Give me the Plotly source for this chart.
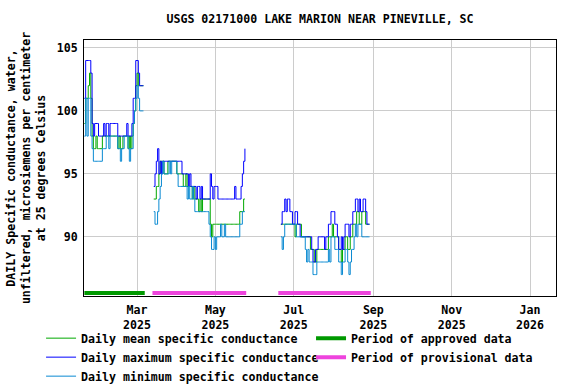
import pandas as pd
import plotly.graph_objects as go

TITLE = "USGS 02171000 LAKE MARION NEAR PINEVILLE, SC"
Y_TITLE = "DAILY Specific conductance, water,<br>unfiltered, microsiemens per centimeter<br>at 25 degrees Celsius"

# ---- daily values (microsiemens per centimeter) ----
seg1_start = "2025-01-19"
seg1_max = [101, 104, 104, 104, 104, 103, 99, 98, 99, 99,
            99, 98, 98, 98, 98, 99, 98, 99, 99, 98,
            99, 99, 99, 99, 99, 99, 98, 98, 98, 98,
            98, 98, 98, 99, 98, 98, 98, 99, 101, 101,
            104, 104, 103, 102, 102, 102, 102]
seg1_mean = [99, 101, 101, 102, 103, 101, 98, 97, 97, 98,
             97, 97, 97, 97, 98, 98, 98, 98, 98, 98,
             98, 98, 98, 98, 98, 98, 97, 98, 97, 97,
             98, 98, 98, 98, 97, 98, 97, 98, 99, 100,
             102, 103, 102, 102, 102, 102, 102]
seg1_min = [98, 101, 98, 101, 101, 98, 97, 96, 96, 96,
            96, 96, 96, 96, 97, 97, 97, 98, 98, 97,
            98, 98, 98, 98, 98, 98, 97, 97, 96, 97,
            97, 98, 98, 98, 97, 96, 97, 97, 99, 100,
            101, 102, 101, 100, 100, 100, 100]

seg2_start = "2025-03-14"
seg2_max = [94, 95, 96, 97, 95, 96, 95, 96, 96, 96,
            96, 96, 96, 96, 96, 96, 96, 96, 96, 96,
            96, 96, 95, 95, 95, 95, 95, 94, 95, 94,
            94, 94, 94, 93, 94,
            94, 93, 94, 93, 93, 93, 93, 93, 93, 95,
            94, 93, 94, 94, 94, 93, 93, 93, 93, 93,
            93, 93, 93, 93, 93, 93, 93, 93, 94, 93,
            93, 93, 93, 94, 95, 96, 97]
seg2_mean = [93, 93, 94, 94, 95, 96, 96, 96, 95, 95,
             95, 96, 96, 96, 96, 96, 96, 96, 95, 95,
             95, 95, 95, 94, 94, 95, 94, 94, 94, 94,
             93, 94, 93, 93, 93,
             92, 93, 92, 93, 93, 93, 93, 93, 93, 91,
             90, 91, 91, 91, 91, 91, 91, 91, 91, 91,
             91, 91, 91, 91, 91, 91, 91, 91, 91, 91,
             91, 91, 92, 92, 92, 93, 93]
seg2_min = [92, 91, 91, 92, 93, 94, 95, 96, 95, 95,
            95, 95, 96, 95, 96, 96, 96, 96, 95, 94,
            94, 94, 94, 94, 94, 94, 93, 94, 93, 93,
            94, 93, 92, 92, 92,
            92, 92, 92, 92, 92, 92, 92, 92, 91, 90,
            89, 89, 90, 89, 90, 90, 90, 91, 90, 90,
            91, 90, 90, 90, 90, 90, 90, 90, 90, 90,
            90, 90, 91, 91, 92, 92, 92]

seg3_start = "2025-06-21"
seg3_max = [91, 92, 92, 93, 92, 93, 93, 92, 92, 91,
            91, 92, 92, 91, 91, 90, 90, 90, 90, 90,
            90, 90, 90, 90, 89, 88, 88, 89, 89, 90,
            90, 90, 90, 90, 89, 90, 90, 91, 91, 92,
            92, 92, 91, 91, 90, 89, 89, 90, 89, 90,
            91, 91, 91, 90, 91, 91, 92, 92, 93, 93,
            92, 93, 92, 92, 93, 93, 92, 91, 91, 91]
seg3_mean = [91, 91, 91, 91, 91, 91, 91, 91, 91, 91,
             91, 90, 91, 91, 91, 91, 90, 90, 90, 90,
             90, 90, 90, 89, 89, 89, 88, 88, 89, 89,
             89, 89, 89, 89, 89, 89, 89, 90, 90, 90,
             91, 90, 90, 90, 90, 89, 89, 88, 89, 89,
             90, 90, 89, 89, 90, 90, 91, 91, 91, 92,
             92, 91, 91, 92, 92, 92, 91, 91, 91, 91]
seg3_min = [90, 89, 90, 91, 91, 91, 91, 91, 91, 91,
            91, 91, 90, 90, 90, 90, 90, 90, 90, 89,
            88, 89, 88, 88, 88, 87, 87, 87, 88, 88,
            88, 88, 88, 88, 88, 88, 88, 89, 88, 90,
            90, 90, 89, 89, 89, 88, 88, 87, 88, 88,
            89, 89, 88, 87, 88, 89, 89, 90, 91, 90,
            91, 91, 91, 90, 90, 90, 90, 90, 90, 90]

approved_periods = [("2025-01-19", "2025-03-07")]
provisional_periods = [("2025-03-13", "2025-05-25"), ("2025-06-19", "2025-08-30")]

x_range = ["2025-01-18 17:00", "2026-01-21 05:00"]
x_tickvals = ["2025-03-01", "2025-05-01", "2025-07-01", "2025-09-01", "2025-11-01", "2026-01-01"]
x_ticktext = ["Mar<br>2025", "May<br>2025", "Jul<br>2025", "Sep<br>2025", "Nov<br>2025", "Jan<br>2026"]
y_tickvals = [90, 95, 100, 105]
y_range = [85.3, 105.63]

# ---- build a daily frame with gaps between segments ----
frames = []
for start, mx, mn, lo in [(seg1_start, seg1_max, seg1_mean, seg1_min),
                          (seg2_start, seg2_max, seg2_mean, seg2_min),
                          (seg3_start, seg3_max, seg3_mean, seg3_min)]:
    idx = pd.date_range(start, periods=len(mx), freq="D")
    frames.append(pd.DataFrame({"max": mx, "mean": mn, "min": lo}, index=idx))
data = pd.concat(frames)
full_idx = pd.date_range(data.index.min(), data.index.max(), freq="D")
data = data.reindex(full_idx)

FONT = dict(family="DejaVu Sans Mono", size=11.6, color="black", weight="bold")

fig = go.Figure()
series = [("mean", "Daily mean specific conductance", "#00a800"),
          ("max", "Daily maximum specific conductance", "#0000ff"),
          ("min", "Daily minimum specific conductance", "#0a8ad2")]
for col, name, color in series:
    fig.add_trace(go.Scatter(
        x=data.index, y=data[col], mode="lines", name=name,
        line=dict(color=color, width=1, shape="hv"),
        connectgaps=False, legend="legend", hoverinfo="x+y"))

for i, (s, e) in enumerate(approved_periods):
    fig.add_shape(type="line", xref="x", yref="y domain", x0=s, x1=e, y0=0.012, y1=0.012,
                  line=dict(color="#009900", width=4), name="Period of approved data",
                  showlegend=(i == 0), legend="legend2")
for i, (s, e) in enumerate(provisional_periods):
    fig.add_shape(type="line", xref="x", yref="y domain", x0=s, x1=e, y0=0.012, y1=0.012,
                  line=dict(color="#ee44dd", width=4), name="Period of provisional data",
                  showlegend=(i == 0), legend="legend2")

fig.update_layout(
    width=576, height=384,
    margin=dict(l=84, r=20, t=40, b=88, autoexpand=False),
    paper_bgcolor="white", plot_bgcolor="white",
    font=FONT,
    title=dict(text=TITLE, x=0.5, xref="paper", xanchor="center",
               y=1 - 19 / 384, yanchor="middle", font=FONT),
    showlegend=True,
    legend=dict(x=-0.091, xanchor="left", y=-0.108, yanchor="top",
                font=FONT, bgcolor="rgba(0,0,0,0)", borderwidth=0, tracegroupgap=0),
    legend2=dict(x=0.481, xanchor="left", y=-0.108, yanchor="top",
                 font=FONT, bgcolor="rgba(0,0,0,0)", borderwidth=0, tracegroupgap=0),
)
fig.update_xaxes(
    range=x_range, tickvals=x_tickvals, ticktext=x_ticktext, ticks="",
    ticklabelstandoff=3,
    showgrid=True, gridcolor="#cccccc", gridwidth=1,
    showline=True, linecolor="black", linewidth=1, mirror=True,
    zeroline=False, automargin=False, tickfont=FONT)
fig.update_yaxes(
    range=y_range, tickvals=y_tickvals, ticks="",
    ticklabelstandoff=3,
    showgrid=True, gridcolor="#cccccc", gridwidth=1,
    showline=True, linecolor="black", linewidth=1, mirror=True,
    zeroline=False, automargin=False, tickfont=FONT,
    title=dict(text=Y_TITLE, font=FONT, standoff=8))

fig.write_html("out.html", config={"displayModeBar": False},
               post_script="document.body.style.margin='0';")
